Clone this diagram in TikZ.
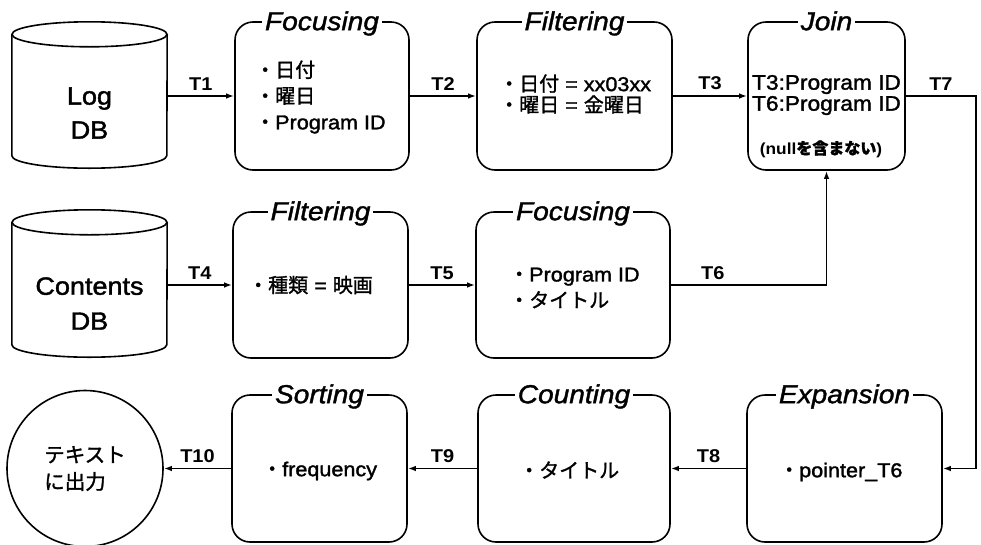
\documentclass[tikz,border=0pt]{standalone}
\usepackage{fontspec}
\setmainfont{Liberation Sans}[FakeStretch=1.08]
\newfontfamily\itmf{Liberation Sans}[FakeStretch=1.08, FakeBold=1.6]
\newfontfamily\ttlf{Liberation Sans Italic}[FakeStretch=1.08, FakeBold=1.4]
\newfontfamily\jp{Noto Sans CJK JP}[FakeBold=1.4]
\usetikzlibrary{arrows.meta}
\newcommand{\drawcyl}[1]{%
  \draw[ln] ([yshift=-12.5pt]#1.north) ellipse [x radius=77.5pt, y radius=12.5pt];
  \draw[ln] ([yshift=-12.5pt]#1.north west) -- ([yshift=12.5pt]#1.south west)
    arc [start angle=180, end angle=360, x radius=77.5pt, y radius=12.5pt]
    -- ([yshift=-12.5pt]#1.north east);}
\begin{document}
\begin{tikzpicture}[x=1pt,y=-1pt,
  box/.style={draw, line width=1.6pt, rounded corners=18pt, inner sep=0pt},
  ttl/.style={fill=white, inner xsep=3pt, inner ysep=1pt, font=\fontsize{26}{30}\selectfont\ttlf, anchor=base},
  itm/.style={align=left, anchor=west, inner sep=0pt, font=\fontsize{20}{26}\selectfont\itmf},
  lbl/.style={font=\fontsize{18.5}{20}\selectfont\bfseries, inner sep=0pt, above=5pt},
  arr/.style={line width=1.6pt, -{Latex[length=8pt,width=5.5pt]}},
  ln/.style={line width=1.6pt},
  dbt/.style={align=center, font=\fontsize{25}{34}\selectfont\itmf, inner sep=0pt},
  cyl/.style={minimum width=155pt, inner sep=0pt},
]
\useasboundingbox (0,0) rectangle (981,544);

% ---------- cylinders ----------
\node[cyl, minimum height=146pt] (logdb) at (89.5,95) {};
\drawcyl{logdb}
\node[dbt] (logt) at (89.5,113) {Log\\DB};

\node[cyl, minimum height=147pt] (cdb) at (89.5,283.5) {};
\drawcyl{cdb}
\node[dbt, font=\fontsize{25}{35}\selectfont\itmf] (cdbt) at (89.5,303.5) {Contents\\DB};

% ---------- output circle ----------
\node[draw, circle, ln, minimum size=156pt, align=left, font=\fontsize{20.5}{27}\selectfont\jp] (out) at (85,468.5) {テキスト\\に出力};

% ---------- row 1 ----------
\node[box, minimum width=174pt, minimum height=148pt] (f1) at (322,96) {};
\node[ttl] (f1h) at ([yshift=-9pt]f1.north) {Focusing};
\node[itm] (f1t) at (255,97) {{\jp ・日付}\\{\jp ・曜日}\\{\jp ・}Program ID};

\node[box, minimum width=195pt, minimum height=148pt] (fl1) at (574.5,96) {};
\node[ttl] (fl1h) at ([yshift=-9pt]fl1.north) {Filtering};
\node[itm, font=\fontsize{20}{21}\selectfont\itmf] (fl1t) at (499,94) {{\jp ・日付} = xx03xx\\{\jp ・曜日} = {\jp 金曜日}};

\node[box, minimum width=157pt, minimum height=148pt] (join) at (826.5,96) {};
\node[ttl] (joinh) at ([yshift=-9pt]join.north) {Join};
\node[align=center, inner sep=0pt, font=\fontsize{21}{21}\selectfont\itmf] (joint) at (826.5,95) {T3:Program ID\\T6:Program ID};
\node[inner sep=0pt, font=\fontsize{16}{18}\selectfont\bfseries] (joinn) at (821,149) {(null{\jp を含まない})};

% ---------- row 2 ----------
\node[box, minimum width=175pt, minimum height=146pt] (fl2) at (320.5,285) {};
\node[ttl] (fl2h) at ([yshift=-9pt]fl2.north) {Filtering};
\node[itm] (fl2t) at (248,285) {{\jp ・種類} = {\jp 映画}};

\node[box, minimum width=194pt, minimum height=146pt] (fo2) at (573,285) {};
\node[ttl] (fo2h) at ([yshift=-9pt]fo2.north) {Focusing};
\node[itm] (fo2t) at (509,288) {{\jp ・}Program ID\\{\jp ・タイトル}};

% ---------- row 3 ----------
\node[box, minimum width=175pt, minimum height=147pt] (sort) at (319.5,468.5) {};
\node[ttl] (sorth) at ([yshift=-9pt]sort.north) {Sorting};
\node[itm] (sortt) at (262,471) {{\jp ・}frequency};

\node[box, minimum width=192pt, minimum height=147pt] (count) at (574,468.5) {};
\node[ttl] (counth) at ([yshift=-9pt]count.north) {Counting};
\node[itm] (countt) at (519,470) {{\jp ・タイトル}};

\node[box, minimum width=195pt, minimum height=147pt] (exp) at (844.5,468.5) {};
\node[ttl] (exph) at ([yshift=-9pt]exp.north) {Expansion};
\node[itm] (expt) at (779,472) {{\jp ・}pointer\_T6};

% ---------- connectors ----------
\draw[arr] (logdb.east |- f1.west) -- node[lbl]{T1} (f1.west);
\draw[arr] (f1.east) -- node[lbl]{T2} (fl1.west);
\draw[arr] (fl1.east) -- node[lbl]{T3} (join.west);
\coordinate (t7c) at (976,96);
\draw[arr] (join.east) -- node[lbl]{T7} (t7c) |- (exp.east);

\draw[arr] (cdb.east |- fl2.west) -- node[lbl]{T4} (fl2.west);
\draw[arr] (fl2.east) -- node[lbl]{T5} (fo2.west);
\draw[arr] (fo2.east) -| node[lbl, pos=0.135]{T6} (join.south);

\draw[arr] (exp.west) -- node[lbl]{T8} (count.east);
\draw[arr] (count.west) -- node[lbl]{T9} (sort.east);
\draw[arr] (sort.west) -- node[lbl]{T10} (out.east);
\end{tikzpicture}
\end{document}
